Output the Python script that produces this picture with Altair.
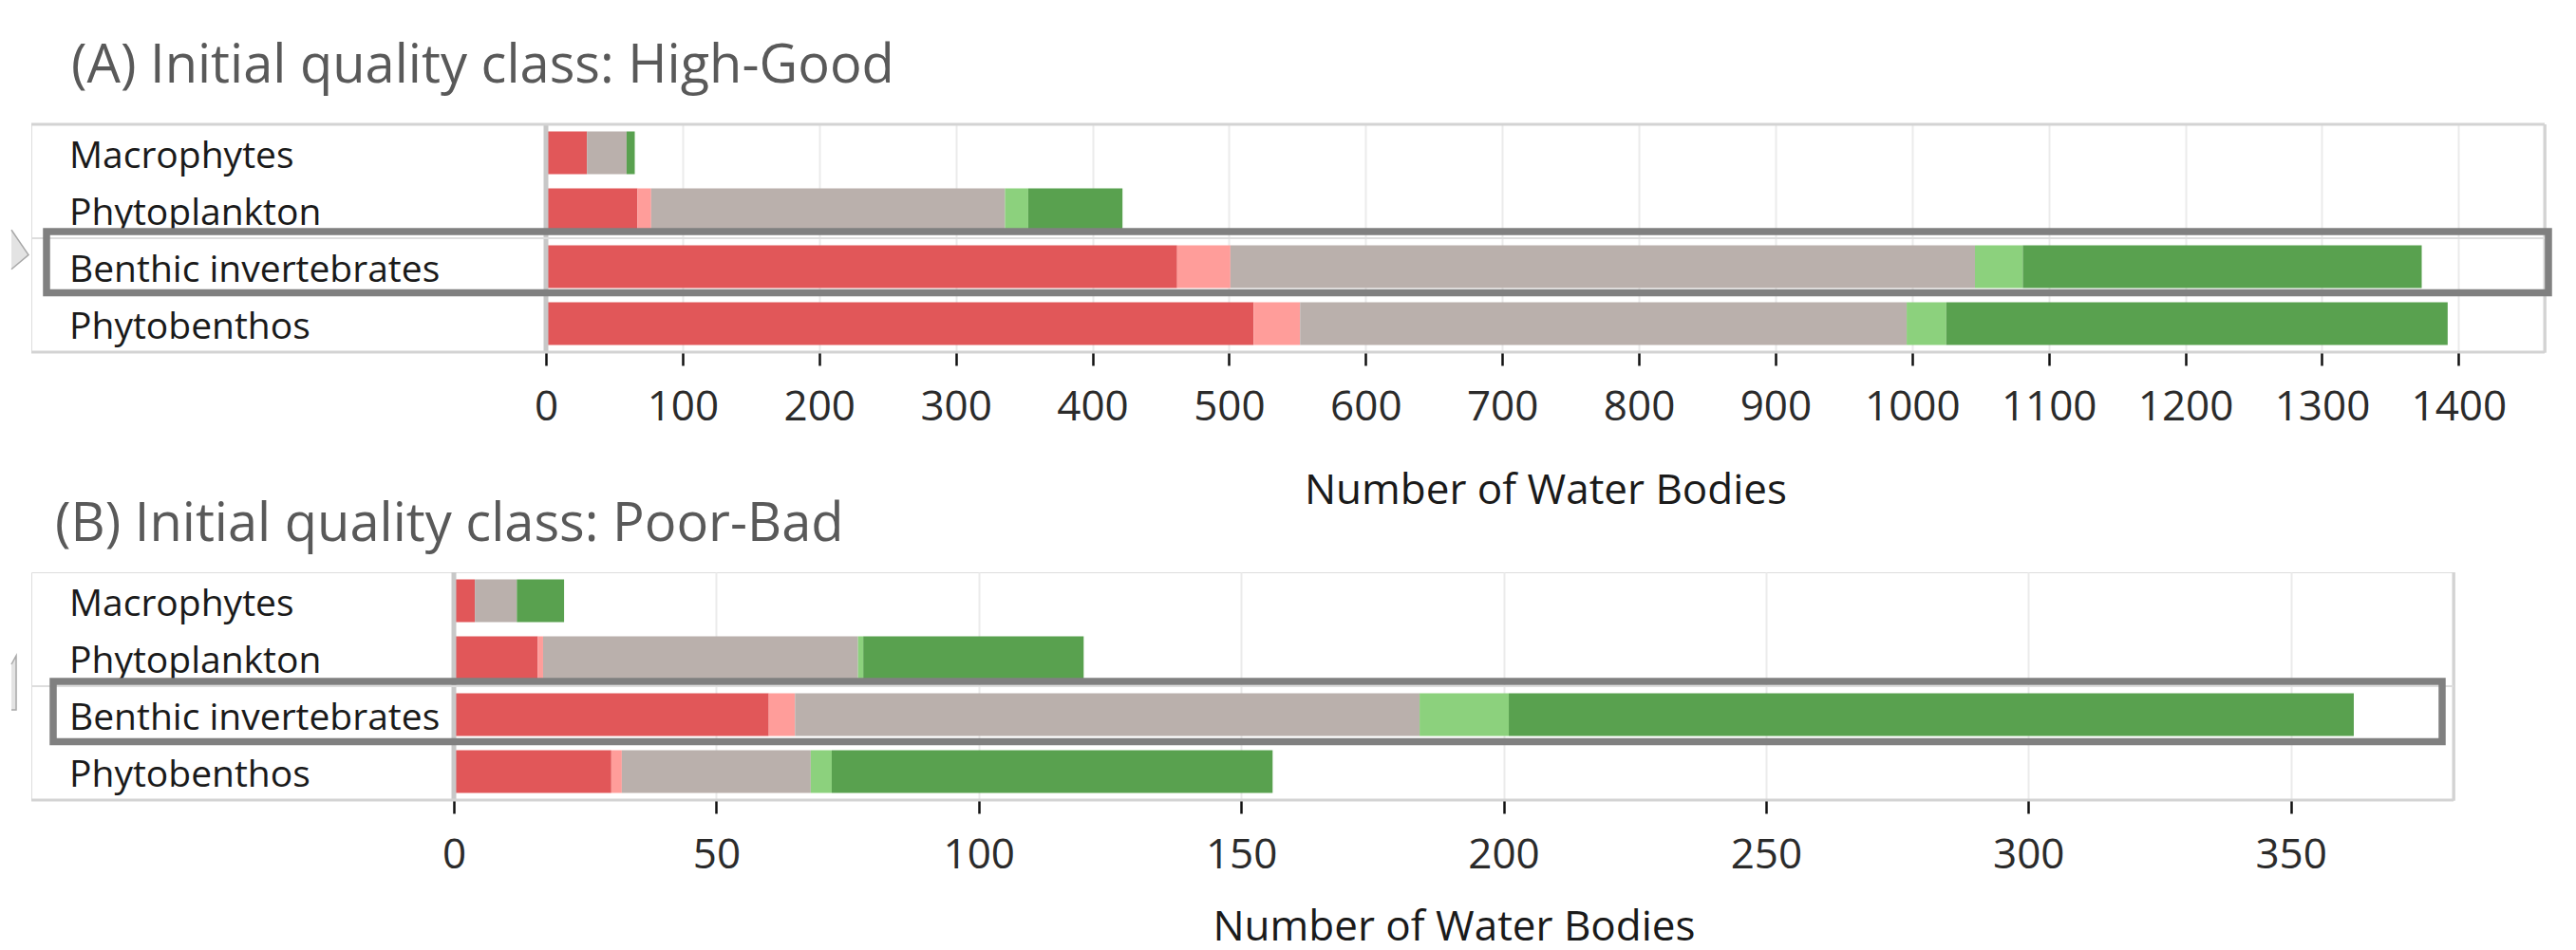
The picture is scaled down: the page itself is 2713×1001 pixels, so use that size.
import altair as alt
import pandas as pd

categories = ["Macrophytes", "Phytoplankton", "Benthic invertebrates", "Phytobenthos"]
series = ["Worse (>1 class)", "Worse (1 class)", "No change", "Better (1 class)", "Better (>1 class)"]
colors = ["#E15759", "#FF9D9A", "#BAB0AC", "#8CD17D", "#59A14F"]

# (A) Initial quality class: High-Good
a_red = [30, 67, 462, 518]
a_pink = [0, 10, 39, 34]
a_grey = [29, 259, 545, 444]
a_lgreen = [0, 17, 35, 29]
a_green = [6, 69, 292, 367]
ticks_a = [0, 100, 200, 300, 400, 500, 600, 700, 800, 900, 1000, 1100, 1200, 1300, 1400]

# (B) Initial quality class: Poor-Bad
b_red = [4, 16, 60, 30]
b_pink = [0, 1, 5, 2]
b_grey = [8, 60, 119, 36]
b_lgreen = [0, 1, 17, 4]
b_green = [9, 42, 161, 84]
ticks_b = [0, 50, 100, 150, 200, 250, 300, 350]

highlight = ["Benthic invertebrates"]
FONT = "Open Sans"


def make_df(cols):
    rows = []
    for i, c in enumerate(categories):
        for j, s in enumerate(series):
            rows.append({"cat": c, "series": s, "order": j, "value": cols[j][i]})
    return pd.DataFrame(rows)


def panel(cols, ticks, dom_max, rng, W, title, title_x, title_y, top_frame,
          box_x, box_size, box_dy, arrow_shape, arrow_size, arrow_xy, axis_title_y):
    H = 240
    df = make_df(cols)
    yscale = alt.Scale(domain=categories, paddingInner=0, paddingOuter=0)
    yenc = alt.Y("cat:N", sort=categories, scale=yscale, axis=None)
    xscale = alt.Scale(domain=[0, dom_max], range=rng, nice=False, zero=True)
    one = pd.DataFrame({"k": [0]})

    bars = alt.Chart(df).mark_bar(size=45).encode(
        x=alt.X("value:Q", stack="zero", scale=xscale,
                axis=alt.Axis(values=ticks, grid=True, gridColor="#EBEBEB", gridWidth=2,
                              domain=False, ticks=True, tickColor="#111111", tickSize=14,
                              tickWidth=2.5, labelFontSize=44, labelFont=FONT,
                              labelColor="#2b2b2b", labelPadding=22, labelFlush=False,
                              labelOverlap=False, format="d",
                              title="Number of Water Bodies", titleFont=FONT,
                              titleFontSize=44, titleFontWeight="normal",
                              titleColor="#1a1a1a", titleY=axis_title_y, titleBaseline="top")),
        y=yenc,
        color=alt.Color("series:N", scale=alt.Scale(domain=series, range=colors), legend=None),
        order=alt.Order("order:Q"),
    )

    zero = alt.Chart(one).mark_rule(color="#C8C8C8", strokeWidth=5).encode(x=alt.datum(0))

    frame_c = "#D3D3D3"
    bottom = alt.Chart(one).mark_rule(color=frame_c, strokeWidth=3).encode(
        x=alt.value(0), x2=alt.value(W - 1), y=alt.value(H))
    right = alt.Chart(one).mark_rule(color=frame_c, strokeWidth=3).encode(
        x=alt.value(W - 1), y=alt.value(0), y2=alt.value(H))
    layers = [bars, zero, bottom, right]
    if top_frame:
        layers.append(alt.Chart(one).mark_rule(color=frame_c, strokeWidth=3).encode(
            x=alt.value(0), x2=alt.value(W - 1), y=alt.value(0)))

    rowline = alt.Chart(pd.DataFrame({"cat": highlight})).mark_rule(
        color="#DDDDDD", strokeWidth=2).encode(
        y=alt.Y("cat:N", sort=categories, scale=yscale, axis=None, bandPosition=0),
        x=alt.value(0), x2=alt.value(W - 1))

    labels = alt.Chart(pd.DataFrame({"cat": categories})).mark_text(
        align="left", baseline="middle", fontSize=39, font=FONT, color="#1a1a1a", dy=4
    ).encode(y=yenc, x=alt.value(40), text="cat:N")

    ttl = alt.Chart(pd.DataFrame({"t": [title]})).mark_text(
        align="left", baseline="alphabetic", fontSize=56, font=FONT, color="#595959"
    ).encode(x=alt.value(title_x), y=alt.value(title_y), text="t:N")

    box = alt.Chart(pd.DataFrame({"cat": highlight})).mark_bar(
        orient="horizontal", size=box_size, yOffset=box_dy, filled=False,
        color="#808080", strokeWidth=7.5
    ).encode(y=yenc, x=alt.value(box_x[0]), x2=alt.value(box_x[1]))

    arrow = alt.Chart(one).mark_point(
        shape=arrow_shape, size=arrow_size, filled=True,
        fill="#E3E3E3", stroke="#A8A8A8", strokeWidth=1.5, opacity=1
    ).encode(x=alt.value(arrow_xy[0]), y=alt.value(arrow_xy[1]))

    layers += [rowline, labels, ttl, box, arrow]
    return alt.layer(*layers).properties(width=W, height=H)


chart_a = panel([a_red, a_pink, a_grey, a_lgreen, a_green], ticks_a, 1463, [542, 2647], 2648,
                "(A) Initial quality class: High-Good", 42, -44, True,
                (16, 2651), 64.5, -4.75,
                "M -0.434 -1 L 0.434 0.267 L -0.434 1", 1722, (-12, 132), 124)
chart_b = panel([b_red, b_pink, b_grey, b_lgreen, b_green], ticks_b, 381, [445, 2551], 2552,
                "(B) Initial quality class: Poor-Bad", 25, -33, False,
                (23, 2539), 63.5, -3.25,
                "M -0.088 -0.684 L 0.088 -1 L 0.088 1 L -0.088 1", 3249, (-18.5, 116.5), 112)

chart = alt.vconcat(chart_a, chart_b, spacing=-16).properties(
    padding={"left": 0, "top": 33, "right": 0, "bottom": 8}
).configure_view(strokeWidth=0).configure(font=FONT)

chart.save("out.html", embed_options={"renderer": "svg", "actions": False})
